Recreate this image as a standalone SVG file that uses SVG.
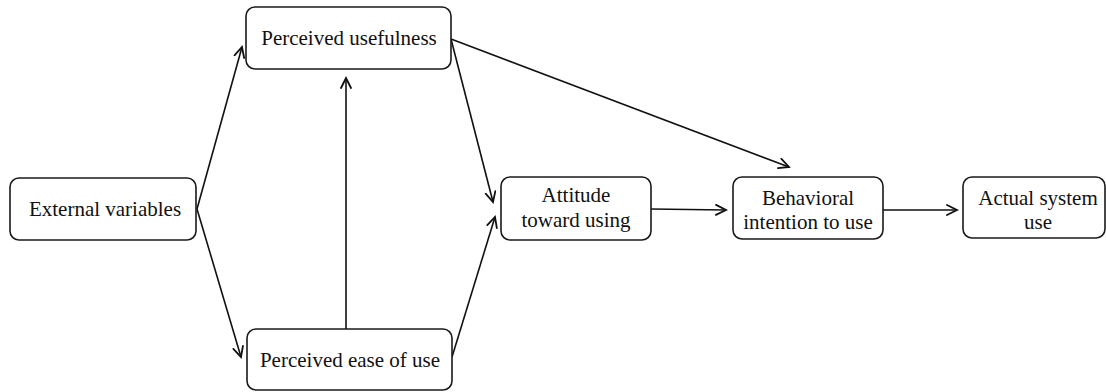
<svg xmlns="http://www.w3.org/2000/svg" width="1106" height="392" viewBox="0 0 1106 392">
<style>
.box{fill:#fff;stroke:#1a1a1a;stroke-width:1.6}
.t{font-family:'Liberation Serif','Times New Roman',serif;font-size:21px;fill:#111;text-anchor:middle}
.c{fill:none;stroke:#111;stroke-width:1.6}
</style>
<defs>
<marker id="arr" markerUnits="userSpaceOnUse" markerWidth="14" markerHeight="14" refX="11" refY="6" orient="auto">
<path d="M1,1 L11,6 L1,11" fill="none" stroke="#111" stroke-width="1.8" stroke-linecap="round" stroke-linejoin="miter"/>
</marker>
</defs>
<rect width="1106" height="392" fill="#fff"/>
<g id="connectors">
<line class="c" x1="197" y1="209" x2="242" y2="47" marker-end="url(#arr)"/>
<line class="c" x1="197" y1="209" x2="241" y2="357" marker-end="url(#arr)"/>
<line class="c" x1="346" y1="329" x2="346" y2="78" marker-end="url(#arr)"/>
<line class="c" x1="451" y1="39" x2="493" y2="202" marker-end="url(#arr)"/>
<line class="c" x1="452" y1="357" x2="495" y2="217" marker-end="url(#arr)"/>
<line class="c" x1="451" y1="39" x2="789" y2="167" marker-end="url(#arr)"/>
<line class="c" x1="651" y1="209" x2="726" y2="210" marker-end="url(#arr)"/>
<line class="c" x1="883" y1="210" x2="957" y2="210" marker-end="url(#arr)"/>
</g>
<g id="external">
<rect class="box" x="10" y="178" width="186" height="62" rx="9"/>
<text class="t" x="105" y="216">External variables</text>
</g>
<g id="usefulness">
<rect class="box" x="246" y="7" width="205" height="62" rx="9"/>
<text class="t" x="349" y="45">Perceived usefulness</text>
</g>
<g id="ease">
<rect class="box" x="247" y="329" width="205" height="61" rx="9"/>
<text class="t" x="350" y="367">Perceived ease of use</text>
</g>
<g id="attitude">
<rect class="box" x="501" y="177" width="150" height="63" rx="9"/>
<text class="t" x="576" y="202">Attitude</text>
<text class="t" x="576" y="227">toward using</text>
</g>
<g id="intention">
<rect class="box" x="733" y="177" width="150" height="62" rx="9"/>
<text class="t" x="808" y="205">Behavioral</text>
<text class="t" x="808" y="229">intention to use</text>
</g>
<g id="actual">
<rect class="box" x="963" y="177" width="142" height="61" rx="9"/>
<text class="t" x="1038" y="205">Actual system</text>
<text class="t" x="1038" y="229">use</text>
</g>
</svg>
